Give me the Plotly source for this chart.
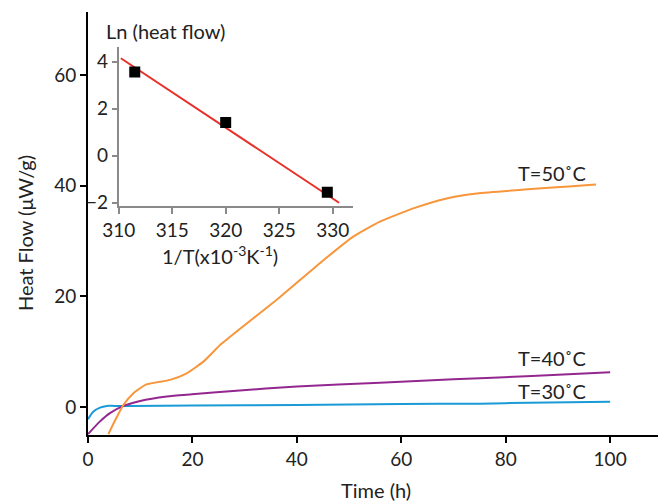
import plotly.graph_objects as go

# ---- main chart data (Time h vs Heat Flow uW/g) ----
t30_x = [0, 1.0, 2.3, 3.6, 5, 8, 20, 40, 60, 75, 80, 100]
t30_y = [-2.2, -0.85, -0.1, 0.2, 0.2, 0.2, 0.25, 0.35, 0.55, 0.6, 0.7, 0.96]

t40_x = [0, 2.3, 4.2, 6.8, 10, 15.1, 19.9, 27.8, 40, 55.9, 70, 85, 100]
t40_y = [-4.9, -2.6, -1.1, 0.2, 1.1, 1.9, 2.3, 2.9, 3.7, 4.4, 5.0, 5.6, 6.3]

t50_x = [3.9, 5.2, 6.8, 8.7, 11.2, 15.7, 18.9, 22.1, 25.3, 28.8, 36.8,
         44.4, 50.8, 55.9, 62.3, 68.7, 74.5, 97.3]
t50_y = [-4.9, -2.4, 0.4, 2.5, 4.1, 4.9, 6.1, 8.2, 11.2, 13.9, 19.9,
         26.0, 30.8, 33.5, 35.9, 37.7, 38.6, 40.2]

series_labels = ["T=30˚C", "T=40˚C", "T=50˚C"]
label_x = [95.8, 95.8, 95.8]
label_y = [2.95, 8.8, 42.3]

main_xticks = [0, 20, 40, 60, 80, 100]
main_yticks = [0, 20, 40, 60]

# ---- inset data (Arrhenius plot) ----
inv_t = [311.5, 320.0, 329.5]
ln_hf = [3.57, 1.42, -1.55]
fit_x = [310.2, 330.6]
fit_y = [4.15, -2.0]
inset_xticks = [310, 315, 320, 325, 330]
inset_yticks = [-2, 0, 2, 4]

FONT = "Lato"
TXT = "#222222"
ORANGE = "#F7963A"
PURPLE = "#93278F"
BLUE = "#1A9AD6"
RED = "#E8302A"
GRAY = "#8a8a8a"
TS = 19   # tick font size
LS = 20   # label font size

fig = go.Figure()
fig.add_trace(go.Scatter(x=t30_x, y=t30_y, mode="lines", line=dict(color=BLUE, width=2, shape="spline", smoothing=0.6),
                         showlegend=False, hoverinfo="skip"))
fig.add_trace(go.Scatter(x=t40_x, y=t40_y, mode="lines", line=dict(color=PURPLE, width=2, shape="spline", smoothing=0.6),
                         showlegend=False, hoverinfo="skip"))
fig.add_trace(go.Scatter(x=t50_x, y=t50_y, mode="lines", line=dict(color=ORANGE, width=2, shape="spline", smoothing=0.5),
                         showlegend=False, hoverinfo="skip"))

fig.add_trace(go.Scatter(x=fit_x, y=fit_y, mode="lines", line=dict(color=RED, width=2),
                         xaxis="x2", yaxis="y2", showlegend=False, hoverinfo="skip"))
fig.add_trace(go.Scatter(x=inv_t, y=ln_hf, mode="markers",
                         marker=dict(symbol="square", size=11, color="black"),
                         xaxis="x2", yaxis="y2", showlegend=False, hoverinfo="skip"))

# page has an 8px body margin; figure is placed at (8, 8)
OFF = 8
PAGE_W, PAGE_H = 666, 502
W, H = PAGE_W - OFF, PAGE_H - OFF
PL, PR, PT, PB = 88, 666, 12, 435   # plot area in page pixels
L, T = PL - OFF, PT - OFF
R = W - (PR - OFF)
B = H - (PB - OFF)
pw, ph = PR - PL, PB - PT


def px(xp):
    return (xp - PL) / pw


def py(yp):
    return (PB - yp) / ph


annotations = []
for lab, lx, ly in zip(series_labels, label_x, label_y):
    annotations.append(dict(x=lx, y=ly, xref="x", yref="y", text=lab, showarrow=False,
                            xanchor="right", yanchor="middle", font=dict(size=LS, color=TXT, family=FONT)))
annotations += [
    dict(x=px(376), y=py(490), xref="paper", yref="paper", text="Time (h)", showarrow=False,
         xanchor="center", yanchor="middle", font=dict(size=LS, color=TXT, family=FONT)),
    dict(x=px(25), y=py(233), xref="paper", yref="paper", text="Heat Flow (μW/g)", showarrow=False,
         textangle=-90, xanchor="center", yanchor="middle", font=dict(size=LS, color=TXT, family=FONT)),
    dict(x=px(104), y=py(31), xref="paper", yref="paper", text="Ln (heat flow)", showarrow=False,
         xanchor="left", yanchor="middle", font=dict(size=LS, color=TXT, family=FONT)),
    dict(x=px(220), y=py(255), xref="paper", yref="paper",
         text="1/T(x10<sup>-3</sup>K<sup>-1</sup>)", showarrow=False,
         xanchor="center", yanchor="middle", font=dict(size=LS, color=TXT, family=FONT)),
]

fig.update_layout(
    width=W, height=H,
    margin=dict(l=L, r=R, t=T, b=B, autoexpand=False),
    paper_bgcolor="white", plot_bgcolor="white",
    font=dict(family=FONT, size=TS, color=TXT),
    xaxis=dict(range=[0, 110.7], tickvals=main_xticks, showgrid=False, zeroline=False,
               showline=True, linecolor="black", linewidth=2, ticks="outside", ticklen=6,
               tickwidth=2, tickcolor="black", tickfont=dict(size=TS, color=TXT, family=FONT)),
    yaxis=dict(range=[-5.06, 71.4], tickvals=main_yticks, showgrid=False, zeroline=False,
               showline=True, linecolor="black", linewidth=2, ticks="outside", ticklen=6,
               tickwidth=2, tickcolor="black", tickfont=dict(size=TS, color=TXT, family=FONT)),
    xaxis2=dict(domain=[px(118.7), px(353)], anchor="y2", range=[310, 331.9], tickvals=inset_xticks,
                showgrid=False, zeroline=False, showline=True, linecolor=GRAY, linewidth=1.5,
                ticks="outside", ticklen=6, tickwidth=1.5, tickcolor=GRAY,
                tickfont=dict(size=TS, color=TXT, family=FONT)),
    yaxis2=dict(domain=[py(206), py(47)], anchor="x2", range=[-2.14, 4.63], tickvals=inset_yticks,
                showgrid=False, zeroline=False, showline=True, linecolor=GRAY, linewidth=1.5,
                ticks="outside", ticklen=5, tickwidth=1.5, tickcolor=GRAY,
                tickfont=dict(size=TS, color=TXT, family=FONT)),
    annotations=annotations,
)

fig.write_html("out.html")
